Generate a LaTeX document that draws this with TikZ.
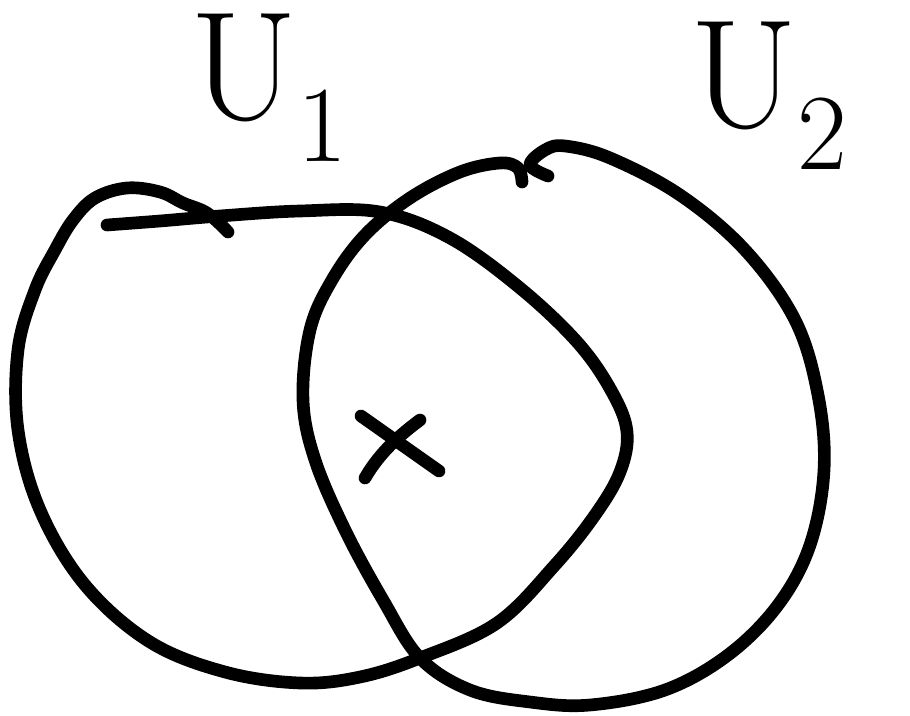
\documentclass[tikz,border=0pt]{standalone}
\usepackage{xcolor}
\definecolor{cInk}{HTML}{000000}
\usepackage{tikz}
\usetikzlibrary{positioning}
\tikzset{
  pen/.style={draw=cInk,line width=3.6pt,line cap=round,line join=round},
  set-label/.style={text=cInk,inner sep=0pt,font=\fontsize{44}{44}\selectfont},
}

\begin{document}
\begin{tikzpicture}[x=0.01cm,y=-0.01cm]
  \useasboundingbox (0,0) rectangle (910,716);

  % U1
  \draw[pen] plot[smooth,tension=0.6] coordinates {
    (107,225) (160,221) (220,216) (300,211) (380,212) (450,238) (520,288)
    (578,343) (612,392) (627,432) (620,472) (595,515) (555,565) (497,623)
    (420,658) (360,677) (300,683) (225,672) (150,642) (85,585) (40,510)
    (18,430) (18,350) (35,290) (55,250) (73,220) (95,198) (127,188)
    (160,192) (183,203) (207,213) (228,232)};

  % U2
  \draw[pen] plot[smooth,tension=0.6] coordinates {
    (548,176) (530,165) (545,150) (565,146) (610,158) (680,195) (745,250)
    (795,320) (818,395) (824,470) (810,545) (778,605) (728,655) (665,690)
    (590,705) (530,702) (470,690) (420,658) (383,600) (345,530) (315,460)
    (303,400) (310,330) (332,280) (365,235) (410,198) (460,172) (500,163)
    (518,168) (522,182)};

  % Punkt
  \draw[pen] (361,416) -- (439,471);
  \draw[pen] (420,420) .. controls (400,435) and (380,452) .. (365,478);

  % Beschriftung
  \node[set-label,anchor=base west] (u1label) at (190,120) {U\textsubscript{1}};
  \node[set-label,anchor=base west] (u2label) at (690,128) {U\textsubscript{2}};
\end{tikzpicture}
\end{document}
